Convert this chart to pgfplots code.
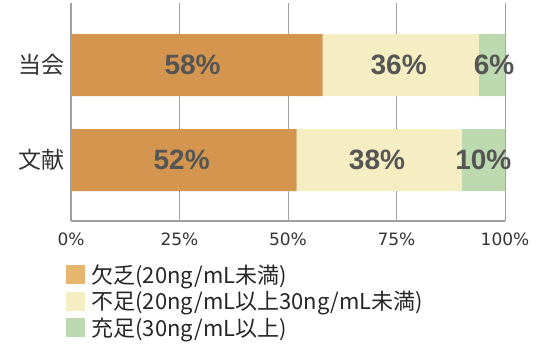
\documentclass[border=0pt]{standalone}
\usepackage{pgfplots}
\pgfplotsset{compat=1.18}
\usepackage{fontspec}
\setmainfont{Noto Sans CJK JP}
\newfontfamily\numfont{Liberation Sans}
\newfontfamily\tickfont{DejaVu Sans}
\definecolor{barorange}{HTML}{D4964F}
\definecolor{legorange}{HTML}{E6B56E}
\definecolor{baryellow}{HTML}{F4EEC2}
\definecolor{bargreen}{HTML}{BDD9B0}
\definecolor{axgray}{HTML}{A0A0A0}
\definecolor{labgray}{HTML}{555555}
\begin{document}
\begin{tikzpicture}[x=1pt,y=1pt]
\path[use as bounding box] (0,0) rectangle (556,343);
\begin{axis}[
  at={(71pt,122pt)}, anchor=south west,
  scale only axis, width=434pt, height=218pt,
  xbar stacked, bar width=0.653,
  xmin=0, xmax=100, ymin=-0.642, ymax=1.653,
  axis x line*=bottom, axis y line*=left,
  axis line style={axgray, line width=1.2pt, -},
  xtick={0,25,50,75,100},
  xticklabels={0\%,25\%,50\%,75\%,100\%},
  ytick={0,1}, yticklabels={文献,当会},
  major tick length=0pt,
  xmajorgrids, grid style={axgray, line width=0.9pt},
  xticklabel style={font=\tickfont\fontsize{17}{17}\selectfont, text=black!80, yshift=-8pt},
  yticklabel style={font=\fontsize{23}{23}\selectfont, text=black!80, xshift=-3pt},
  legend style={at={(-0.013,-0.19)}, anchor=north west, draw=none, fill=none,
    font=\fontsize{22}{22}\selectfont, text=black!85, row sep=2.5pt,
    cells={anchor=west}, inner sep=0pt},
  legend cell align=left,
]
\addplot[fill=barorange, draw=none,
  legend image code/.code={\fill[legorange] (0pt,-9.5pt) rectangle (19pt,9.5pt);}]
  coordinates {(52,0) (58,1)};
\addlegendentry{\hspace{5pt}欠乏(20ng/mL未満)}
\addplot[fill=baryellow, draw=none,
  legend image code/.code={\fill[baryellow] (0pt,-9.5pt) rectangle (19pt,9.5pt);}]
  coordinates {(38,0) (36,1)};
\addlegendentry{\hspace{5pt}不足(20ng/mL以上30ng/mL未満)}
\addplot[fill=bargreen, draw=none,
  legend image code/.code={\fill[bargreen] (0pt,-9.5pt) rectangle (19pt,9.5pt);}]
  coordinates {(10,0) (6,1)};
\addlegendentry{\hspace{5pt}充足(30ng/mL以上)}
\end{axis}
\begin{axis}[
  at={(71pt,122pt)}, anchor=south west,
  scale only axis, width=434pt, height=218pt,
  xmin=0, xmax=100, ymin=-0.642, ymax=1.653,
  hide axis,
]
\addplot[only marks, mark=none, nodes near coords, point meta=explicit symbolic,
  every node near coord/.style={anchor=center, text=labgray,
    font=\numfont\bfseries\fontsize{28}{28}\selectfont}]
  coordinates {(28,1)[58\%] (75.5,1)[36\%] (97.5,1)[6\%]
               (25.5,0)[52\%] (70.5,0)[38\%] (95,0)[10\%]};
\end{axis}
\end{tikzpicture}
\end{document}
